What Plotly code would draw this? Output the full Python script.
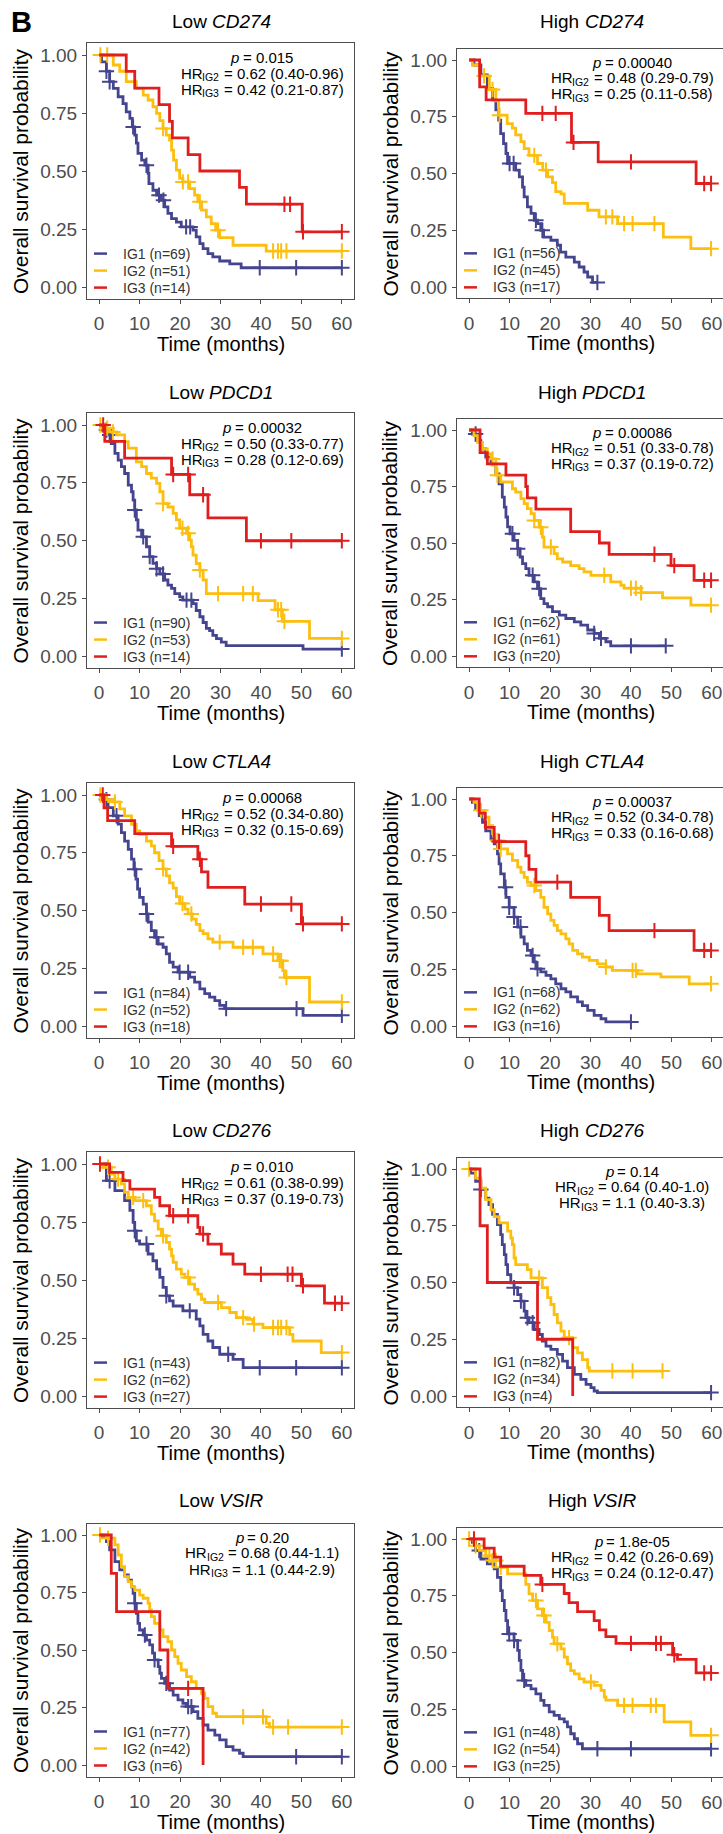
import plotly.graph_objects as go

# ---------------------------------------------------------------------------
# Kaplan-Meier step data: event times (months), survival after each event,
# and censoring times, per immune group (IG1/IG2/IG3) and panel.
# ---------------------------------------------------------------------------

# Low CD274
LOW_CD274_IG1_T = [0.6, 1.8, 2.6, 3.5, 4.7, 5.9, 6.7, 7.6, 8.2, 8.8, 9.2, 9.6, 10.5, 11.3, 12.1, 12.3, 13.3, 14.2, 15.4, 16.2, 17.0, 17.9, 19.1, 20.3, 23.2, 24.0, 24.9, 25.7, 26.9, 28.1, 29.8, 32.3, 35.1]
LOW_CD274_IG1_S = [0.97, 0.93, 0.885, 0.856, 0.82, 0.79, 0.755, 0.727, 0.69, 0.655, 0.62, 0.576, 0.547, 0.525, 0.49, 0.446, 0.417, 0.396, 0.374, 0.345, 0.317, 0.295, 0.28, 0.259, 0.245, 0.216, 0.187, 0.165, 0.144, 0.13, 0.112, 0.10, 0.083]
LOW_CD274_IG1_C = [1.8, 2.6, 8.4, 11.7, 14.8, 15.9, 21.5, 22.5, 39.7, 48.7, 60]
LOW_CD274_IG2_T = [3.5, 5.1, 6.7, 9.2, 10.9, 12.1, 13.3, 14.2, 15.0, 15.8, 16.6, 17.4, 17.9, 18.4, 19.1, 19.9, 20.7, 22.4, 23.6, 24.4, 25.3, 26.5, 27.7, 28.8, 29.8, 33.1, 41.3]
LOW_CD274_IG2_S = [0.957, 0.93, 0.885, 0.856, 0.827, 0.806, 0.777, 0.748, 0.717, 0.683, 0.655, 0.633, 0.59, 0.547, 0.504, 0.468, 0.453, 0.424, 0.396, 0.367, 0.331, 0.302, 0.273, 0.245, 0.213, 0.18, 0.155]
LOW_CD274_IG2_C = [0.3, 2.0, 15.8, 20.7, 22.0, 24.9, 29.4, 43.0, 44.2, 45.0, 46.3, 60]
LOW_CD274_IG3_T = [6.7, 8.8, 14.8, 17.4, 18.1, 22.0, 24.9, 34.7, 36.4, 50.2]
LOW_CD274_IG3_S = [0.929, 0.857, 0.786, 0.714, 0.643, 0.571, 0.5, 0.429, 0.357, 0.238]
LOW_CD274_IG3_C = [45.8, 47.2, 50.4, 60]

# High CD274
HIGH_CD274_IG1_T = [1.2, 2.9, 4.5, 5.8, 6.6, 7.3, 7.8, 8.5, 9.1, 9.5, 11.5, 12.4, 13.2, 13.6, 14.4, 15.3, 16.1, 16.9, 17.7, 18.4, 20.2, 21.8, 22.6, 23.9, 26.0, 27.2, 28.4, 29.3, 30.5]
HIGH_CD274_IG1_S = [0.978, 0.934, 0.875, 0.824, 0.78, 0.735, 0.676, 0.632, 0.588, 0.544, 0.515, 0.485, 0.44, 0.397, 0.353, 0.324, 0.294, 0.279, 0.25, 0.22, 0.206, 0.184, 0.154, 0.132, 0.11, 0.088, 0.066, 0.044, 0.02]
HIGH_CD274_IG1_C = [10.0, 11.0, 16.5, 18.1, 31.7]
HIGH_CD274_IG2_T = [0.8, 2.5, 5.0, 6.6, 7.3, 9.4, 10.7, 11.5, 12.8, 13.6, 14.8, 16.9, 18.2, 19.4, 20.6, 21.4, 22.7, 23.5, 29.3, 32.1, 36.7, 48.0, 54.8]
HIGH_CD274_IG2_S = [0.978, 0.93, 0.87, 0.82, 0.757, 0.72, 0.70, 0.67, 0.64, 0.61, 0.58, 0.544, 0.515, 0.485, 0.46, 0.42, 0.41, 0.368, 0.338, 0.309, 0.279, 0.22, 0.169]
HIGH_CD274_IG2_C = [3.7, 5.8, 7.5, 16.1, 19.0, 33.8, 35.4, 38.3, 40.4, 45.8, 59.8]
HIGH_CD274_IG3_T = [2.6, 4.2, 14.0, 25.3, 31.9, 56.1]
HIGH_CD274_IG3_S = [0.882, 0.824, 0.765, 0.637, 0.551, 0.456]
HIGH_CD274_IG3_C = [18.1, 21.4, 25.8, 40.0, 58.1, 59.8]

# Low PDCD1
LOW_PDCD1_IG1_T = [0.6, 2.2, 3.0, 3.9, 4.7, 5.5, 6.3, 7.2, 8.0, 8.4, 8.8, 9.2, 9.6, 10.5, 11.7, 12.5, 13.3, 14.2, 15.0, 16.2, 17.0, 17.9, 18.7, 19.9, 20.7, 23.2, 24.0, 24.9, 25.7, 26.5, 27.3, 28.1, 29.0, 30.2, 31.4, 50.4]
LOW_PDCD1_IG1_S = [0.978, 0.957, 0.92, 0.877, 0.848, 0.82, 0.79, 0.74, 0.711, 0.675, 0.632, 0.589, 0.545, 0.516, 0.473, 0.43, 0.401, 0.378, 0.355, 0.329, 0.307, 0.293, 0.27, 0.256, 0.242, 0.227, 0.197, 0.17, 0.145, 0.12, 0.11, 0.089, 0.075, 0.06, 0.045, 0.03]
LOW_PDCD1_IG1_C = [1.8, 2.6, 8.8, 10.9, 12.5, 14.2, 15.8, 21.6, 22.8, 60]
LOW_PDCD1_IG2_T = [1.4, 2.6, 4.3, 6.3, 7.2, 9.2, 10.5, 11.7, 12.9, 14.2, 15.0, 15.8, 17.0, 18.3, 19.1, 19.9, 21.6, 22.4, 22.8, 23.2, 24.0, 24.9, 25.7, 26.5, 39.3, 43.5, 45.3, 52.0]
LOW_PDCD1_IG2_S = [0.986, 0.97, 0.957, 0.928, 0.9, 0.84, 0.82, 0.79, 0.77, 0.747, 0.711, 0.66, 0.645, 0.617, 0.589, 0.553, 0.531, 0.502, 0.473, 0.437, 0.40, 0.372, 0.329, 0.27, 0.24, 0.20, 0.15, 0.076]
LOW_PDCD1_IG2_C = [0.3, 2.0, 3.4, 15.8, 20.6, 22.0, 24.9, 29.4, 35.6, 38.0, 44.2, 45.0, 45.8, 60]
LOW_PDCD1_IG3_T = [1.4, 6.3, 17.9, 22.4, 26.9, 36.4]
LOW_PDCD1_IG3_S = [0.929, 0.857, 0.786, 0.698, 0.598, 0.499]
LOW_PDCD1_IG3_C = [1.0, 18.3, 22.0, 25.7, 40.0, 47.5, 60]

# High PDCD1
HIGH_PDCD1_IG1_T = [0.8, 2.1, 2.9, 4.1, 5.4, 6.6, 7.4, 8.2, 8.7, 9.1, 9.5, 10.1, 11.1, 12.0, 12.6, 13.2, 14.0, 14.8, 16.1, 16.9, 17.7, 18.5, 19.4, 20.6, 22.3, 23.9, 26.0, 27.6, 29.3, 30.9, 32.2, 33.8, 35.0]
HIGH_PDCD1_IG1_S = [0.982, 0.953, 0.916, 0.88, 0.85, 0.806, 0.762, 0.703, 0.659, 0.615, 0.571, 0.541, 0.512, 0.475, 0.438, 0.409, 0.387, 0.357, 0.328, 0.298, 0.254, 0.232, 0.218, 0.196, 0.181, 0.166, 0.151, 0.137, 0.115, 0.1, 0.078, 0.063, 0.045]
HIGH_PDCD1_IG1_C = [1.6, 10.7, 12.0, 15.7, 17.3, 30.9, 32.6, 40.0, 48.6]
HIGH_PDCD1_IG2_T = [1.2, 2.1, 3.3, 4.5, 5.4, 6.6, 7.8, 10.7, 11.5, 12.8, 13.6, 14.4, 15.3, 16.1, 17.3, 18.1, 18.5, 21.0, 21.8, 23.1, 25.1, 27.2, 28.4, 30.1, 35.0, 37.5, 38.3, 42.5, 47.8, 54.8]
HIGH_PDCD1_IG2_S = [0.975, 0.945, 0.916, 0.894, 0.872, 0.80, 0.77, 0.74, 0.725, 0.696, 0.674, 0.652, 0.63, 0.6, 0.57, 0.526, 0.482, 0.453, 0.43, 0.416, 0.40, 0.387, 0.372, 0.357, 0.328, 0.313, 0.30, 0.28, 0.257, 0.225]
HIGH_PDCD1_IG2_C = [5.8, 7.0, 16.1, 17.7, 20.2, 33.4, 40.0, 41.2, 42.5, 59.8]
HIGH_PDCD1_IG3_T = [2.7, 4.5, 9.1, 14.0, 14.4, 16.5, 25.1, 32.2, 34.6, 49.9, 55.6]
HIGH_PDCD1_IG3_S = [0.90, 0.85, 0.80, 0.75, 0.70, 0.65, 0.55, 0.50, 0.45, 0.40, 0.335]
HIGH_PDCD1_IG3_C = [45.8, 50.7, 58.1, 59.8]

# Low CTLA4
LOW_CTLA4_IG1_T = [0.6, 2.2, 3.5, 4.7, 5.5, 6.3, 7.2, 8.0, 8.6, 9.1, 9.5, 10.0, 10.9, 11.7, 12.1, 12.9, 13.7, 14.6, 15.8, 16.6, 17.4, 18.3, 19.5, 22.4, 23.6, 24.9, 26.1, 27.3, 28.6, 29.8, 31.0, 50.4]
LOW_CTLA4_IG1_S = [0.98, 0.945, 0.91, 0.874, 0.837, 0.80, 0.765, 0.722, 0.679, 0.636, 0.593, 0.557, 0.528, 0.485, 0.45, 0.413, 0.384, 0.355, 0.341, 0.312, 0.276, 0.255, 0.233, 0.212, 0.19, 0.161, 0.14, 0.125, 0.11, 0.089, 0.075, 0.046]
LOW_CTLA4_IG1_C = [1.8, 4.3, 8.8, 11.7, 14.2, 19.9, 22.0, 31.4, 48.8, 60]
LOW_CTLA4_IG2_T = [1.8, 3.5, 5.1, 6.3, 8.0, 9.2, 10.0, 11.7, 12.9, 13.7, 14.8, 15.8, 16.6, 17.4, 18.3, 19.1, 19.9, 21.2, 22.0, 23.0, 24.0, 24.9, 25.7, 26.9, 28.1, 33.1, 40.5, 44.2, 45.4, 45.8, 52.0]
LOW_CTLA4_IG2_S = [0.98, 0.97, 0.94, 0.91, 0.873, 0.845, 0.83, 0.80, 0.78, 0.75, 0.716, 0.68, 0.65, 0.62, 0.597, 0.56, 0.53, 0.506, 0.485, 0.463, 0.44, 0.413, 0.40, 0.377, 0.363, 0.341, 0.312, 0.283, 0.24, 0.21, 0.104]
LOW_CTLA4_IG2_C = [0.3, 3.9, 15.8, 20.6, 22.8, 29.8, 35.6, 38.0, 43.0, 44.6, 45.0, 46.3, 60]
LOW_CTLA4_IG3_T = [1.2, 2.1, 8.8, 17.9, 24.4, 25.3, 26.9, 36.0, 50.0]
LOW_CTLA4_IG3_S = [0.944, 0.889, 0.833, 0.778, 0.722, 0.667, 0.60, 0.528, 0.442]
LOW_CTLA4_IG3_C = [0.9, 18.3, 24.9, 40.0, 47.5, 50.4, 60]

# High CTLA4
HIGH_CTLA4_IG1_T = [0.8, 1.6, 2.5, 3.3, 4.1, 5.4, 6.2, 7.0, 7.4, 7.8, 8.7, 9.1, 9.9, 11.1, 12.0, 12.8, 13.6, 14.4, 15.3, 16.1, 16.5, 17.7, 19.0, 20.2, 21.4, 22.7, 23.9, 25.1, 26.8, 28.0, 29.3, 30.9, 32.6, 33.8]
HIGH_CTLA4_IG1_S = [0.985, 0.956, 0.927, 0.897, 0.86, 0.824, 0.802, 0.758, 0.714, 0.67, 0.611, 0.567, 0.523, 0.48, 0.436, 0.392, 0.362, 0.333, 0.311, 0.282, 0.252, 0.238, 0.223, 0.208, 0.186, 0.164, 0.15, 0.128, 0.106, 0.09, 0.069, 0.047, 0.032, 0.018]
HIGH_CTLA4_IG1_C = [9.0, 9.9, 11.1, 12.7, 15.7, 16.9, 40.0]
HIGH_CTLA4_IG2_T = [1.2, 2.1, 3.7, 4.9, 5.8, 6.2, 7.8, 9.5, 10.7, 12.0, 12.8, 13.6, 14.4, 15.3, 16.5, 17.7, 18.5, 19.4, 20.2, 21.0, 21.8, 22.7, 23.9, 24.7, 25.6, 26.8, 28.0, 29.7, 31.7, 33.8, 35.4, 41.6, 47.4, 54.4]
HIGH_CTLA4_IG2_S = [0.985, 0.95, 0.92, 0.883, 0.846, 0.817, 0.78, 0.758, 0.73, 0.70, 0.677, 0.655, 0.633, 0.619, 0.597, 0.567, 0.523, 0.494, 0.465, 0.443, 0.42, 0.406, 0.384, 0.362, 0.333, 0.318, 0.303, 0.289, 0.274, 0.26, 0.245, 0.23, 0.216, 0.186]
HIGH_CTLA4_IG2_C = [2.9, 7.0, 7.8, 16.1, 33.8, 40.4, 41.2, 59.8]
HIGH_CTLA4_IG3_T = [2.5, 4.0, 6.2, 14.0, 14.8, 16.5, 25.1, 32.2, 34.6, 55.6]
HIGH_CTLA4_IG3_S = [0.9375, 0.875, 0.8125, 0.75, 0.69, 0.634, 0.567, 0.487, 0.42, 0.333]
HIGH_CTLA4_IG3_C = [7.4, 21.8, 45.8, 58.1, 59.8]

# Low CD276
LOW_CD276_IG1_T = [1.8, 3.9, 6.3, 7.6, 8.4, 8.8, 9.2, 10.0, 12.1, 13.3, 14.2, 15.0, 15.8, 16.6, 17.4, 18.3, 20.7, 24.0, 24.9, 25.7, 26.9, 28.1, 29.8, 33.1, 35.6]
LOW_CD276_IG1_S = [0.928, 0.885, 0.842, 0.80, 0.748, 0.712, 0.669, 0.655, 0.612, 0.583, 0.547, 0.511, 0.468, 0.432, 0.41, 0.388, 0.367, 0.331, 0.302, 0.266, 0.237, 0.209, 0.18, 0.158, 0.122]
LOW_CD276_IG1_C = [2.6, 8.8, 11.7, 16.6, 22.4, 31.9, 39.7, 48.7, 60]
LOW_CD276_IG2_T = [1.0, 3.0, 3.9, 5.5, 6.3, 7.2, 8.8, 11.7, 12.9, 13.7, 14.6, 15.4, 16.6, 17.4, 17.9, 18.3, 19.1, 20.3, 21.2, 22.4, 23.6, 24.4, 25.3, 26.1, 30.2, 32.3, 33.9, 36.4, 38.0, 40.5, 47.1, 47.9, 54.9]
LOW_CD276_IG2_S = [0.986, 0.957, 0.935, 0.914, 0.878, 0.856, 0.842, 0.82, 0.784, 0.755, 0.719, 0.691, 0.662, 0.633, 0.604, 0.576, 0.547, 0.525, 0.511, 0.482, 0.46, 0.439, 0.417, 0.403, 0.381, 0.36, 0.338, 0.33, 0.31, 0.295, 0.266, 0.237, 0.187]
LOW_CD276_IG2_C = [2.2, 4.7, 8.4, 10.9, 15.8, 22.0, 29.4, 35.6, 38.3, 43.0, 44.2, 45.0, 46.3, 60]
LOW_CD276_IG3_T = [2.6, 5.9, 7.6, 13.7, 15.0, 17.4, 24.4, 24.9, 26.9, 30.2, 33.1, 36.0, 50.0, 55.7]
LOW_CD276_IG3_S = [0.964, 0.928, 0.892, 0.856, 0.82, 0.777, 0.727, 0.698, 0.655, 0.612, 0.568, 0.525, 0.475, 0.40]
LOW_CD276_IG3_C = [0.2, 18.3, 22.0, 25.7, 40.0, 46.6, 47.8, 50.4, 58.3, 60]

# High CD276
HIGH_CD276_IG1_T = [0.4, 1.6, 2.9, 4.1, 4.9, 5.8, 7.0, 7.8, 8.2, 8.7, 9.1, 9.5, 10.3, 11.1, 12.0, 12.8, 13.6, 14.0, 14.8, 16.1, 17.3, 18.1, 19.0, 20.2, 21.8, 23.1, 24.3, 26.0, 27.6, 28.9, 30.1, 30.9, 31.7]
HIGH_CD276_IG1_S = [0.982, 0.946, 0.91, 0.872, 0.843, 0.80, 0.755, 0.711, 0.667, 0.623, 0.579, 0.535, 0.499, 0.477, 0.447, 0.418, 0.374, 0.345, 0.323, 0.293, 0.271, 0.242, 0.22, 0.205, 0.183, 0.154, 0.125, 0.095, 0.073, 0.051, 0.037, 0.022, 0.015]
HIGH_CD276_IG1_C = [2.9, 11.1, 12.8, 14.4, 15.7, 59.8]
HIGH_CD276_IG2_T = [1.6, 2.9, 4.1, 5.4, 6.2, 7.4, 9.5, 10.3, 10.7, 11.1, 11.5, 14.4, 15.3, 18.1, 19.4, 20.2, 21.0, 21.8, 22.7, 23.5, 25.6, 26.8, 28.0, 29.3, 29.7]
HIGH_CD276_IG2_S = [0.96, 0.916, 0.865, 0.82, 0.79, 0.763, 0.726, 0.696, 0.667, 0.608, 0.579, 0.557, 0.52, 0.477, 0.433, 0.403, 0.359, 0.322, 0.286, 0.257, 0.213, 0.19, 0.16, 0.125, 0.11]
HIGH_CD276_IG2_C = [0.0, 17.3, 24.7, 35.4, 40.4, 47.8]
HIGH_CD276_IG3_T = [2.7, 4.5, 16.9, 25.6]
HIGH_CD276_IG3_S = [0.75, 0.5, 0.25, 0.0]
HIGH_CD276_IG3_C = []

# Low VSIR
LOW_VSIR_IG1_T = [0.6, 1.8, 2.6, 3.9, 5.1, 6.3, 7.2, 8.0, 8.4, 8.8, 9.2, 9.6, 10.0, 10.9, 11.7, 12.5, 13.2, 13.7, 14.6, 15.0, 15.4, 16.2, 17.4, 18.3, 19.5, 20.7, 21.6, 23.2, 24.4, 25.7, 26.9, 28.6, 29.8, 31.4, 33.1, 34.7, 35.6]
LOW_VSIR_IG1_S = [0.993, 0.971, 0.935, 0.884, 0.848, 0.826, 0.804, 0.775, 0.746, 0.703, 0.659, 0.616, 0.587, 0.565, 0.543, 0.522, 0.486, 0.457, 0.428, 0.399, 0.377, 0.355, 0.326, 0.304, 0.283, 0.268, 0.254, 0.232, 0.203, 0.174, 0.152, 0.13, 0.109, 0.08, 0.065, 0.051, 0.036]
LOW_VSIR_IG1_C = [8.8, 11.3, 13.7, 16.6, 22.0, 22.8, 48.7, 60]
LOW_VSIR_IG2_T = [1.8, 3.9, 4.7, 5.5, 6.3, 7.2, 8.0, 8.8, 10.0, 10.9, 12.1, 12.5, 12.9, 13.7, 15.0, 15.8, 17.0, 17.9, 18.7, 19.5, 20.3, 21.6, 22.8, 24.0, 25.3, 26.1, 26.9, 28.1, 29.0, 41.3, 42.1]
LOW_VSIR_IG2_S = [0.986, 0.957, 0.913, 0.862, 0.819, 0.797, 0.775, 0.76, 0.739, 0.725, 0.703, 0.674, 0.645, 0.616, 0.587, 0.558, 0.536, 0.5, 0.471, 0.442, 0.413, 0.384, 0.362, 0.333, 0.312, 0.29, 0.254, 0.225, 0.21, 0.181, 0.165]
LOW_VSIR_IG2_C = [0.2, 2.2, 35.6, 40.5, 43.0, 46.7, 60]
LOW_VSIR_IG3_T = [3.0, 4.3, 15.0, 17.0, 25.7]
LOW_VSIR_IG3_S = [0.833, 0.667, 0.5, 0.333, 0.0]
LOW_VSIR_IG3_C = [22.0]

# High VSIR
HIGH_VSIR_IG1_T = [0.8, 1.6, 2.9, 4.5, 6.2, 7.0, 7.8, 8.2, 8.7, 9.1, 9.5, 11.1, 12.0, 12.4, 12.8, 13.2, 14.0, 15.3, 16.5, 17.7, 18.5, 19.8, 21.0, 22.3, 23.5, 24.3, 25.1, 26.0, 26.8, 28.0]
HIGH_VSIR_IG1_S = [0.985, 0.949, 0.912, 0.89, 0.868, 0.831, 0.773, 0.729, 0.685, 0.64, 0.582, 0.553, 0.509, 0.465, 0.421, 0.377, 0.355, 0.34, 0.318, 0.289, 0.267, 0.238, 0.223, 0.208, 0.194, 0.172, 0.142, 0.12, 0.098, 0.076]
HIGH_VSIR_IG1_C = [2.5, 9.9, 11.1, 13.6, 31.7, 40.0, 59.8]
HIGH_VSIR_IG2_T = [1.2, 2.5, 4.1, 5.8, 7.8, 9.5, 14.0, 14.8, 15.7, 16.9, 18.1, 19.0, 19.8, 20.6, 21.0, 22.7, 23.5, 24.3, 25.1, 26.0, 27.2, 28.4, 30.9, 32.6, 33.4, 33.8, 36.7, 48.2, 54.8]
HIGH_VSIR_IG2_S = [0.97, 0.95, 0.927, 0.905, 0.875, 0.846, 0.80, 0.758, 0.729, 0.692, 0.663, 0.633, 0.597, 0.567, 0.538, 0.516, 0.48, 0.45, 0.42, 0.406, 0.384, 0.37, 0.355, 0.333, 0.304, 0.29, 0.267, 0.194, 0.135]
HIGH_VSIR_IG2_C = [0.0, 1.6, 5.0, 5.8, 6.6, 7.8, 16.5, 18.5, 21.8, 30.1, 38.3, 40.4, 44.9, 46.2, 59.8]
HIGH_VSIR_IG3_T = [3.7, 6.2, 7.8, 13.6, 17.7, 23.5, 24.7, 26.8, 30.9, 32.2, 33.8, 36.3, 50.3, 51.5, 56.1]
HIGH_VSIR_IG3_S = [0.96, 0.92, 0.88, 0.84, 0.80, 0.76, 0.72, 0.68, 0.64, 0.60, 0.57, 0.54, 0.49, 0.47, 0.41]
HIGH_VSIR_IG3_C = [1.2, 18.1, 40.0, 46.2, 47.4, 50.7, 58.1, 59.8]

# Panel labels, statistics and group sizes
LEVELS = ["Low", "High"]
GENES = ["CD274", "PDCD1", "CTLA4", "CD276", "VSIR"]
P_VALUES = ["0.015", "0.00040", "0.00032", "0.00086", "0.00068", "0.00037", "0.010", "0.14", "0.20", "1.8e-05"]
HR_IG2 = ["0.62 (0.40-0.96)", "0.48 (0.29-0.79)", "0.50 (0.33-0.77)", "0.51 (0.33-0.78)", "0.52 (0.34-0.80)",
          "0.52 (0.34-0.78)", "0.61 (0.38-0.99)", "0.64 (0.40-1.0)", "0.68 (0.44-1.1)", "0.42 (0.26-0.69)"]
HR_IG3 = ["0.42 (0.21-0.87)", "0.25 (0.11-0.58)", "0.28 (0.12-0.69)", "0.37 (0.19-0.72)", "0.32 (0.15-0.69)",
          "0.33 (0.16-0.68)", "0.37 (0.19-0.73)", "1.1 (0.40-3.3)", "1.1 (0.44-2.9)", "0.24 (0.12-0.47)"]
N_IG1 = [69, 56, 90, 62, 84, 68, 43, 82, 77, 48]
N_IG2 = [51, 45, 53, 61, 52, 62, 62, 34, 42, 54]
N_IG3 = [14, 17, 14, 20, 18, 16, 27, 4, 6, 25]
GROUPS = ["IG1", "IG2", "IG3"]
X_TICKS = [0, 10, 20, 30, 40, 50, 60]
Y_TICKS = [0, 0.25, 0.5, 0.75, 1.0]

CURVES = [
    [(LOW_CD274_IG1_T, LOW_CD274_IG1_S, LOW_CD274_IG1_C), (LOW_CD274_IG2_T, LOW_CD274_IG2_S, LOW_CD274_IG2_C), (LOW_CD274_IG3_T, LOW_CD274_IG3_S, LOW_CD274_IG3_C)],
    [(HIGH_CD274_IG1_T, HIGH_CD274_IG1_S, HIGH_CD274_IG1_C), (HIGH_CD274_IG2_T, HIGH_CD274_IG2_S, HIGH_CD274_IG2_C), (HIGH_CD274_IG3_T, HIGH_CD274_IG3_S, HIGH_CD274_IG3_C)],
    [(LOW_PDCD1_IG1_T, LOW_PDCD1_IG1_S, LOW_PDCD1_IG1_C), (LOW_PDCD1_IG2_T, LOW_PDCD1_IG2_S, LOW_PDCD1_IG2_C), (LOW_PDCD1_IG3_T, LOW_PDCD1_IG3_S, LOW_PDCD1_IG3_C)],
    [(HIGH_PDCD1_IG1_T, HIGH_PDCD1_IG1_S, HIGH_PDCD1_IG1_C), (HIGH_PDCD1_IG2_T, HIGH_PDCD1_IG2_S, HIGH_PDCD1_IG2_C), (HIGH_PDCD1_IG3_T, HIGH_PDCD1_IG3_S, HIGH_PDCD1_IG3_C)],
    [(LOW_CTLA4_IG1_T, LOW_CTLA4_IG1_S, LOW_CTLA4_IG1_C), (LOW_CTLA4_IG2_T, LOW_CTLA4_IG2_S, LOW_CTLA4_IG2_C), (LOW_CTLA4_IG3_T, LOW_CTLA4_IG3_S, LOW_CTLA4_IG3_C)],
    [(HIGH_CTLA4_IG1_T, HIGH_CTLA4_IG1_S, HIGH_CTLA4_IG1_C), (HIGH_CTLA4_IG2_T, HIGH_CTLA4_IG2_S, HIGH_CTLA4_IG2_C), (HIGH_CTLA4_IG3_T, HIGH_CTLA4_IG3_S, HIGH_CTLA4_IG3_C)],
    [(LOW_CD276_IG1_T, LOW_CD276_IG1_S, LOW_CD276_IG1_C), (LOW_CD276_IG2_T, LOW_CD276_IG2_S, LOW_CD276_IG2_C), (LOW_CD276_IG3_T, LOW_CD276_IG3_S, LOW_CD276_IG3_C)],
    [(HIGH_CD276_IG1_T, HIGH_CD276_IG1_S, HIGH_CD276_IG1_C), (HIGH_CD276_IG2_T, HIGH_CD276_IG2_S, HIGH_CD276_IG2_C), (HIGH_CD276_IG3_T, HIGH_CD276_IG3_S, HIGH_CD276_IG3_C)],
    [(LOW_VSIR_IG1_T, LOW_VSIR_IG1_S, LOW_VSIR_IG1_C), (LOW_VSIR_IG2_T, LOW_VSIR_IG2_S, LOW_VSIR_IG2_C), (LOW_VSIR_IG3_T, LOW_VSIR_IG3_S, LOW_VSIR_IG3_C)],
    [(HIGH_VSIR_IG1_T, HIGH_VSIR_IG1_S, HIGH_VSIR_IG1_C), (HIGH_VSIR_IG2_T, HIGH_VSIR_IG2_S, HIGH_VSIR_IG2_C), (HIGH_VSIR_IG3_T, HIGH_VSIR_IG3_S, HIGH_VSIR_IG3_C)],
]

# ---------------------------------------------------------------------------
# Styling and page geometry (pixels)
# ---------------------------------------------------------------------------
W, H = 723, 1834
FONT = "Liberation Sans, Arial, Helvetica, sans-serif"
COLORS = ["#45458F", "#FCBF10", "#E01E1E"]
AXIS_GREY = "#4D4D4D"
STAT_SIZE = 15
SUB_SIZE = 10.5
TITLE_SIZE = 19

COL_X = [(87, 354, [-3, 63]), (457, 723, [-3, 62.75])]
# pixel rows of survival = 1 and survival = 0, per row and column
ROW_Y = [
    [(55, 287), (60, 287)],
    [(425, 656), (430, 656)],
    [(795, 1026), (799, 1026)],
    [(1164, 1396), (1169, 1396)],
    [(1535, 1765), (1539, 1766)],
]
TITLE_Y = [22, 392, 761, 1130, 1500]

# Arial / Liberation Sans advance widths (1/1000 em) used to lay out mixed-style text runs
ADV = {" ": 278, "(": 333, ")": 333, "-": 333, ".": 278, "=": 584, "e": 556, "p": 556,
       "H": 722, "R": 722, "I": 278, "G": 778, "L": 556, "o": 556, "w": 722, "C": 722,
       "D": 722, "T": 611, "A": 667, "P": 667, "V": 667, "S": 667, "i": 222, "g": 556, "h": 556}


def text_w(s, size):
    return sum(ADV.get(ch, 556) for ch in s) * size / 1000.0


def px(x):
    return x / W


def py(y):
    return 1 - y / H


def surv_at(times, surv, t):
    s = 1.0
    for ti, si in zip(times, surv):
        if ti <= t:
            s = si
        else:
            break
    return s


fig = go.Figure()
annotations = []
shapes = []
layout_axes = {}


def place_runs(runs, center_x, center_y):
    """Lay out (text, size, italic, dy) runs side by side, centred on center_x."""
    widths = [text_w(t, s) for t, s, _, _ in runs]
    x = center_x - sum(widths) / 2
    for (t, s, italic, dy), w in zip(runs, widths):
        lead = len(t) - len(t.lstrip(" "))
        annotations.append(dict(
            text=t.strip(" "), x=px(x + text_w(" " * lead, s)), y=py(center_y + dy),
            xref="paper", yref="paper", showarrow=False, xanchor="left", yanchor="middle",
            borderpad=0,
            font=dict(family=FONT, size=s, color="black", style="italic" if italic else "normal"),
        ))
        x += w


for k in range(10):
    row, col = divmod(k, 2)
    ax = "" if k == 0 else str(k + 1)
    xname, yname = "x" + ax, "y" + ax
    x0, x1, xr = COL_X[col]
    xscale = (x1 - x0) / (xr[1] - xr[0])
    y1px, y0px = ROW_Y[row][col]
    span = y0px - y1px
    top, bottom = y1px - 0.05 * span, y0px + 0.05 * span
    cx = x0 + (30 - xr[0]) * xscale

    common = dict(
        showline=True, mirror=True, linecolor=AXIS_GREY, linewidth=1.1,
        showgrid=False, zeroline=False, ticks="outside", ticklen=4,
        tickwidth=1.1, tickcolor=AXIS_GREY,
        tickfont=dict(family=FONT, size=19, color=AXIS_GREY),
        fixedrange=True,
    )
    layout_axes["xaxis" + ax] = dict(
        common, domain=[px(x0), px(x1)], range=xr, anchor=yname,
        tickvals=X_TICKS, ticktext=[str(v) for v in X_TICKS], ticklabelstandoff=4,
    )
    layout_axes["yaxis" + ax] = dict(
        common, domain=[py(bottom), py(top)], range=[-0.05, 1.05], anchor=xname,
        tickvals=Y_TICKS, ticktext=["%.2f" % v for v in Y_TICKS], ticklabelstandoff=1,
    )

    # survival curves and censoring marks
    for g, (times, surv, cens) in enumerate(CURVES[k]):
        end = max([times[-1]] + list(cens))
        xs = [0] + list(times) + [end]
        ys = [1.0] + list(surv) + [surv[-1]]
        fig.add_trace(go.Scatter(
            x=xs, y=ys, mode="lines", line=dict(color=COLORS[g], width=2.8, shape="hv"),
            xaxis=xname, yaxis=yname, showlegend=False, hoverinfo="skip",
        ))
        if cens:
            fig.add_trace(go.Scatter(
                x=cens, y=[surv_at(times, surv, c) for c in cens], mode="markers",
                marker=dict(symbol="cross-thin", size=11, color=COLORS[g],
                            line=dict(width=2, color=COLORS[g])),
                xaxis=xname, yaxis=yname, showlegend=False, hoverinfo="skip",
            ))

    # panel title: level in roman, gene symbol in italics
    place_runs([(LEVELS[col] + " ", TITLE_SIZE, False, 0), (GENES[row], TITLE_SIZE, True, 0)],
               (x0 + x1 + (2 if col else 0)) / 2, TITLE_Y[row])

    # test statistics (log-rank p and hazard ratios)
    stat_x = x0 + (40 - xr[0]) * xscale
    ys_stat = [y0px - v * span for v in (0.99, 0.922, 0.852)]
    place_runs([("p", STAT_SIZE, True, 0), (" = " + P_VALUES[k], STAT_SIZE, False, 0)],
               stat_x, ys_stat[0])
    for hr, grp, yy in ((HR_IG2[k], "IG2", ys_stat[1]), (HR_IG3[k], "IG3", ys_stat[2])):
        place_runs([("HR", STAT_SIZE, False, 0), (grp, SUB_SIZE, False, 4),
                    (" = " + hr, STAT_SIZE, False, 0)], stat_x, yy)

    # legend keys inside the panel
    n_vals = [N_IG1[k], N_IG2[k], N_IG3[k]]
    for g in range(3):
        ly = bottom - 11 - 17 * (2 - g)
        shapes.append(dict(
            type="line", xref="paper", yref="paper",
            x0=px(x0 + 7), x1=px(x0 + 20), y0=py(ly), y1=py(ly),
            line=dict(color=COLORS[g], width=2.5),
        ))
        annotations.append(dict(
            text=f"{GROUPS[g]} (n={n_vals[g]})", x=px(x0 + 34), y=py(ly),
            xref="paper", yref="paper", showarrow=False, xanchor="left", yanchor="middle",
            font=dict(family=FONT, size=14, color="#333333"),
        ))

    # axis titles
    annotations.append(dict(
        text="Time (months)", x=px((x0 + x1 + (2 if col else 0)) / 2), y=py(bottom + 45),
        xref="paper", yref="paper", showarrow=False, xanchor="center", yanchor="middle",
        font=dict(family=FONT, size=20, color="black"),
    ))
    annotations.append(dict(
        text="Overall survival probability", x=px(x0 - 67), y=py((top + bottom) / 2),
        xref="paper", yref="paper", showarrow=False, textangle=-90,
        xanchor="center", yanchor="middle", font=dict(family=FONT, size=21, color="black"),
    ))

# figure panel letter
annotations.append(dict(
    text="B", x=px(9), y=py(22), xref="paper", yref="paper", showarrow=False,
    xanchor="left", yanchor="middle",
    font=dict(family=FONT, size=29, color="black", weight="bold"),
))

fig.update_layout(
    width=W, height=H, margin=dict(l=0, r=0, t=0, b=0),
    paper_bgcolor="white", plot_bgcolor="white",
    showlegend=False, annotations=annotations, shapes=shapes,
    **layout_axes,
)

fig.write_html("out.html")
